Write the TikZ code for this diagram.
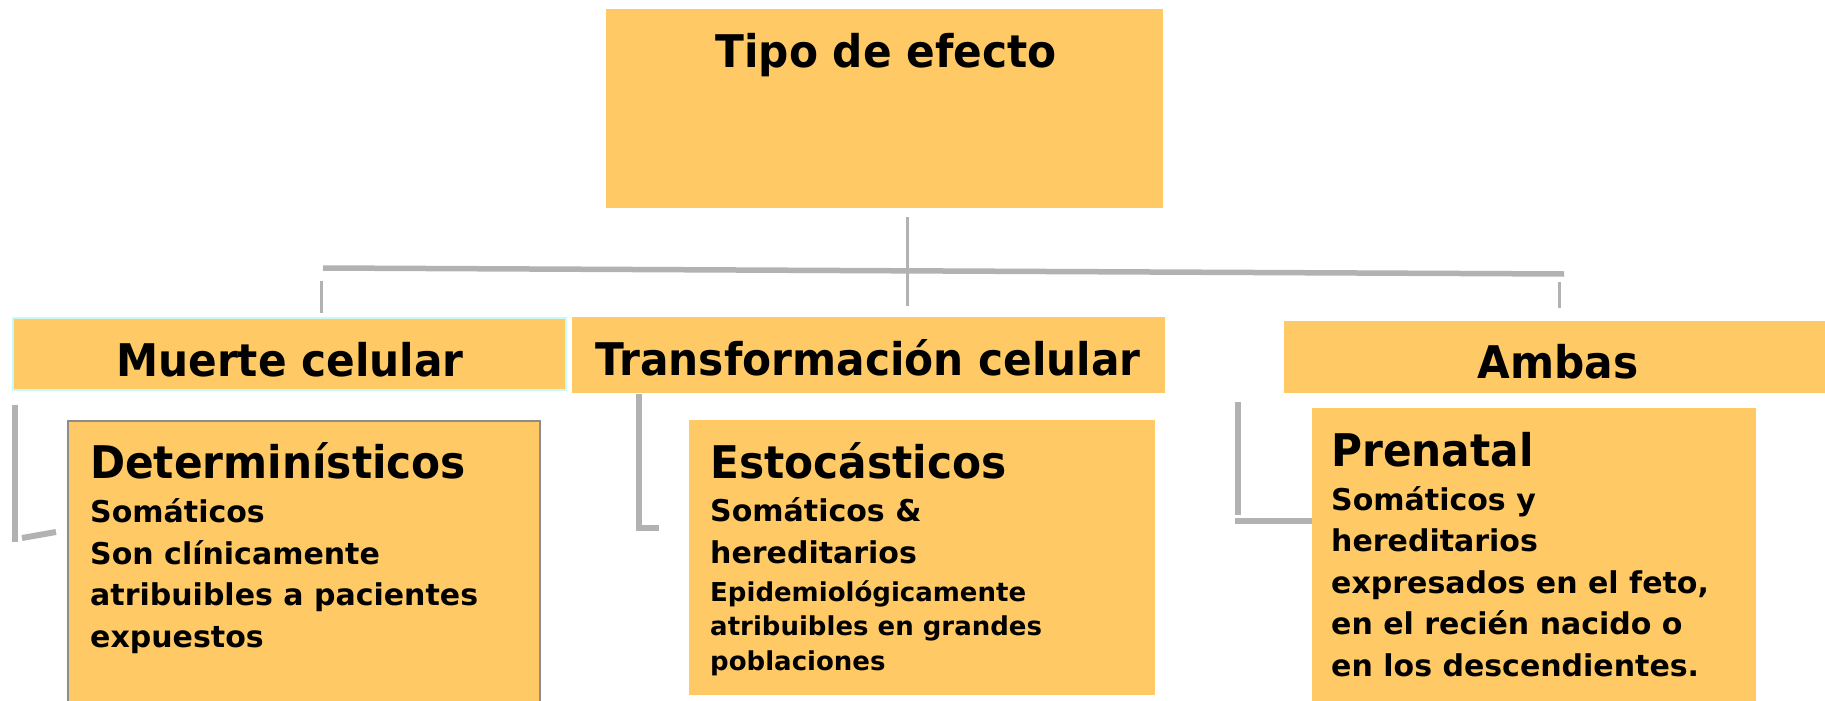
\documentclass[tikz,border=0pt]{standalone}
\usepackage{fontspec}
\setmainfont{DejaVu Sans}
\newfontfamily\titlefont{DejaVu Sans}[FakeStretch=0.94]
\definecolor{boxfill}{HTML}{FFCA66}
\definecolor{linegray}{HTML}{B2B2B2}
\definecolor{cyanedge}{HTML}{C8FAFA}
\definecolor{boxedge}{HTML}{8C8C8C}
\tikzset{
  box/.style={rectangle, fill=boxfill, draw=none, inner sep=0pt, outer sep=0pt, anchor=north west},
  conn/.style={draw=linegray, line width=6pt},
  thin conn/.style={draw=linegray, line width=3pt},
  head/.style={font=\titlefont\bfseries\fontsize{45}{50}\selectfont, inner sep=0pt},
  sub/.style={font=\bfseries\fontsize{30}{41.5}\selectfont, inner sep=0pt, align=left, anchor=base west},
  small/.style={font=\bfseries\fontsize{26}{34.5}\selectfont, inner sep=0pt, align=left, anchor=base west},
}
\begin{document}
\begin{tikzpicture}[x=1pt,y=-1pt]
\useasboundingbox (0,0) rectangle (1825,701);
% boxes
\node[box, minimum width=557pt, minimum height=199pt] (tipo) at (606,9) {};
\node[box, draw=cyanedge, line width=1.5pt, minimum width=553pt, minimum height=72pt] (muerte) at (13,318) {};
\node[box, minimum width=593pt, minimum height=76pt] (transf) at (572,317) {};
\node[box, minimum width=545pt, minimum height=72pt] (ambas) at (1284,321) {};
\node[box, draw=boxedge, line width=1.2pt, minimum width=472pt, minimum height=300pt] (determ) at (68,421) {};
\node[box, minimum width=466pt, minimum height=275pt] (estoc) at (689,420) {};
\node[box, minimum width=444pt, minimum height=300pt] (prenatal) at (1312,408) {};
% texts (multi-line nodes: base anchor = last line's baseline)
\node[head, anchor=base] (tipot) at (886,67) {Tipo de efecto};
\node[head, anchor=base] (muertet) at (290,376) {Muerte celular};
\node[head, anchor=base] (transft) at (868,375) {Transformación celular};
\node[head, anchor=base] (ambast) at (1558,378) {Ambas};
\node[head, anchor=base west] (determt) at (90,478) {Determinísticos};
\node[sub] (determb) at (90,647) {Somáticos\\Son clínicamente\\atribuibles a pacientes\\expuestos};
\node[head, anchor=base west] (estoct) at (710,478) {Estocásticos};
\node[sub] (estocb) at (710,563) {Somáticos \&\\hereditarios};
\node[small] (estocc) at (710,670) {Epidemiológicamente\\atribuibles en grandes\\poblaciones};
\node[head, anchor=base west] (prenatalt) at (1331,466) {Prenatal};
\node[sub] (prenatalb) at (1331,676) {Somáticos y\\hereditarios\\expresados en el feto,\\en el recién nacido o\\en los descendientes.};
% connector coordinates
\coordinate (t0) at (907,217);
\coordinate (t1) at (907,306);
\coordinate (barL) at (323,268);
\coordinate (barR) at (1564,274);
\coordinate (dL0) at (321,281);
\coordinate (dL1) at (321,313);
\coordinate (dR0) at (1559,282);
\coordinate (dR1) at (1559,308);
\coordinate (lb0) at (15,405);
\coordinate (lb1) at (15,542);
\coordinate (ls0) at (22,538);
\coordinate (ls1) at (56,532);
\coordinate (mb0) at (639,394);
\coordinate (mb1) at (639,528);
\coordinate (mb2) at (659,528);
\coordinate (rb0) at (1238,402);
\coordinate (rb1) at (1238,515);
\coordinate (rh0) at (1235,521);
% connectors
\draw[thin conn] (t0) -- (t1);
\draw[draw=linegray, line width=5.5pt] (barL) -- (barR);
\draw[thin conn] (dL0) -- (dL1);
\draw[thin conn] (dR0) -- (dR1);
\draw[conn] (lb0) -- (lb1);
\draw[conn] (ls0) -- (ls1);
\draw[conn] (mb0) -- (mb1) -- (mb2);
\draw[conn] (rb0) -- (rb1);
\draw[conn] (rh0) -- (prenatal.west |- rh0);
\end{tikzpicture}
\end{document}
